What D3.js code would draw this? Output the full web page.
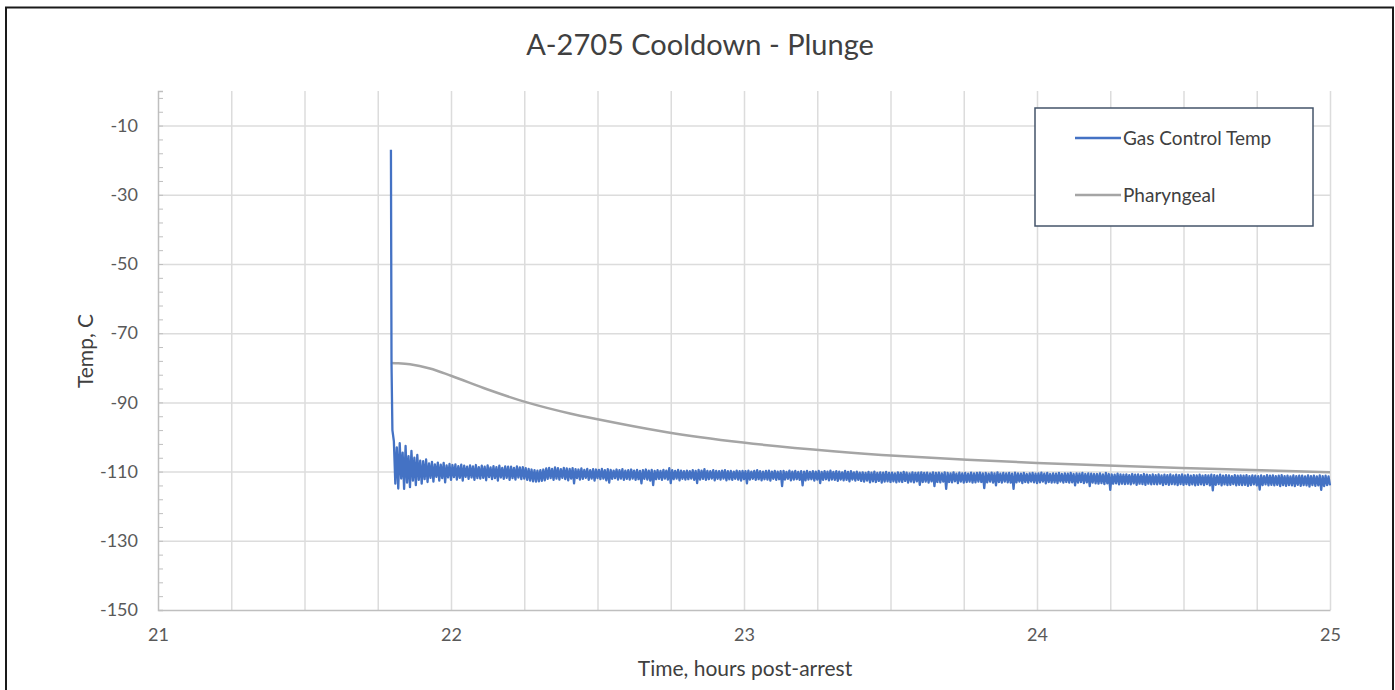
<!DOCTYPE html>
<html>
<head>
<meta charset="utf-8">
<script src="https://cdn.jsdelivr.net/npm/d3@7"></script>
<style>
  body { margin: 0; background: #fff; }
  svg { display: block; font-family: Lato, "Open Sans", sans-serif; }
</style>
</head>
<body>
<div id="chart"></div>
<script>
// chart data
const title = "A-2705 Cooldown - Plunge";
const xLabel = "Time, hours post-arrest";
const yLabel = "Temp, C";
const seriesNames = ["Gas Control Temp", "Pharyngeal"];

const xTicks = [21, 22, 23, 24, 25];
const xGrid = [21.25, 21.5, 21.75, 22, 22.25, 22.5, 22.75, 23, 23.25, 23.5, 23.75, 24, 24.25, 24.5, 24.75, 25];
const yTicks = [-150, -130, -110, -90, -70, -50, -30, -10];

// gas control temp: the spike when plunged, then samples every 0.005 h
const spikeTime = [21.795, 21.797, 21.800];
const spikeTemp = [-17, -79, -98];
const gasStart = 21.805;
const gasStep = 0.005;
const gasTemp = [
  -101.2, -113.5, -103.0, -114.9, -101.8, -112.0, -104.5, -115.0, -102.6, -113.2, -105.5, -114.5, -104.0, -112.6, -106.0, -113.9, -105.2, -112.4, -106.8, -113.5,
  -107.0, -112.2, -106.5, -113.0, -107.6, -111.8, -107.2, -112.9, -107.9, -111.5, -107.4, -112.6, -108.0, -111.9, -107.5, -113.1, -108.2, -111.7, -107.8, -112.4,
  -108.1, -111.6, -107.9, -112.3, -108.4, -111.8, -108.0, -112.6, -108.3, -111.5, -108.6, -112.1, -108.2, -111.7, -108.5, -112.4, -108.1, -111.9, -108.7, -112.0,
  -108.3, -111.8, -108.6, -112.5, -108.2, -111.6, -108.8, -112.2, -108.4, -111.9, -108.7, -112.6, -108.3, -111.7, -108.9, -112.1, -108.5, -111.8, -108.6, -112.4,
  -108.6, -111.9, -108.9, -112.3, -108.5, -111.7, -108.8, -112.2, -108.7, -112.0, -109.0, -112.4, -109.2, -112.6, -109.4, -112.8, -109.6, -112.9, -109.7, -112.8,
  -109.6, -112.7, -109.4, -112.5, -109.1, -112.1, -108.9, -111.9, -109.2, -112.4, -108.8, -112.0, -109.0, -112.3, -109.3, -111.8, -108.9, -112.2, -109.1, -112.5,
  -109.2, -112.0, -109.0, -113.4, -109.3, -111.9, -109.4, -112.3, -109.1, -112.1, -109.5, -111.8, -109.2, -112.4, -109.6, -112.0, -109.3, -112.6, -109.4, -111.9,
  -109.5, -112.2, -109.2, -112.0, -109.6, -112.5, -109.3, -113.2, -109.5, -112.1, -109.7, -111.9, -109.4, -112.3, -109.6, -112.0, -109.3, -112.4, -109.7, -112.1,
  -109.6, -112.3, -109.4, -112.0, -109.7, -112.4, -109.5, -112.2, -109.8, -113.4, -109.6, -112.1, -109.4, -112.3, -109.7, -112.6, -109.5, -113.9, -109.8, -112.2,
  -109.6, -112.1, -109.8, -112.4, -109.5, -112.0, -109.7, -112.3, -109.0, -113.3, -109.6, -112.2, -109.8, -112.0, -109.5, -112.5, -109.7, -112.1, -109.9, -112.3,
  -109.7, -112.2, -109.9, -112.0, -109.6, -112.4, -109.8, -113.3, -109.5, -112.3, -109.7, -112.1, -109.3, -112.4, -109.8, -112.2, -109.9, -112.0, -109.6, -112.5,
  -109.8, -112.1, -109.9, -112.3, -109.7, -112.0, -109.6, -112.5, -109.9, -112.2, -109.8, -112.4, -110.0, -112.1, -109.7, -112.3, -109.9, -112.6, -109.8, -112.2,
  -109.9, -113.4, -109.7, -112.3, -110.0, -112.1, -109.8, -112.4, -109.6, -112.2, -109.9, -112.5, -110.0, -112.2, -109.8, -112.3, -109.7, -112.6, -110.0, -112.1,
  -109.8, -112.4, -110.0, -112.2, -109.9, -114.2, -109.8, -112.3, -110.1, -112.1, -109.7, -112.5, -110.0, -112.3, -109.8, -112.2, -110.1, -112.4, -109.9, -114.0,
  -110.0, -112.5, -109.8, -112.3, -110.1, -112.2, -109.9, -112.6, -110.0, -112.3, -109.8, -113.3, -110.1, -112.4, -109.9, -112.2, -110.0, -112.5, -109.7, -112.3,
  -110.1, -112.4, -109.9, -112.7, -110.0, -112.3, -110.2, -112.5, -109.8, -112.4, -110.1, -112.8, -109.9, -112.3, -110.2, -112.6, -110.0, -112.4, -110.3, -112.7,
  -110.2, -112.9, -110.4, -112.6, -110.1, -113.1, -110.3, -112.8, -110.0, -113.0, -110.4, -112.7, -110.2, -113.2, -110.3, -112.9, -110.1, -112.8, -110.4, -113.0,
  -110.3, -112.8, -110.5, -113.1, -110.2, -112.9, -110.4, -113.0, -110.1, -112.7, -110.3, -113.2, -110.5, -112.9, -110.2, -113.1, -110.4, -112.8, -110.3, -113.8,
  -110.2, -113.0, -110.4, -112.9, -110.3, -113.2, -110.5, -112.8, -110.2, -114.2, -110.4, -113.0, -110.3, -113.1, -110.5, -112.9, -110.2, -115.0, -110.4, -113.0,
  -110.5, -113.1, -110.2, -112.8, -110.6, -113.3, -110.3, -112.9, -110.5, -113.2, -110.4, -113.0, -110.6, -112.9, -110.3, -113.2, -110.5, -113.1, -110.4, -112.9,
  -110.3, -113.0, -110.5, -114.8, -110.4, -113.1, -110.6, -112.9, -110.3, -113.2, -110.5, -114.0, -110.2, -113.0, -110.6, -113.2, -110.4, -112.9, -110.5, -113.1,
  -110.4, -113.2, -110.6, -115.0, -110.3, -113.1, -110.5, -112.9, -110.6, -113.3, -110.4, -113.0, -110.7, -113.2, -110.5, -112.9, -110.4, -113.1, -110.6, -113.3,
  -110.5, -113.1, -110.3, -112.9, -110.6, -113.4, -110.4, -113.0, -110.7, -113.2, -110.5, -113.1, -110.6, -113.3, -110.4, -112.9, -110.7, -113.2, -110.5, -113.0,
  -110.6, -113.2, -110.4, -113.1, -110.7, -114.0, -110.5, -113.2, -110.6, -113.0, -110.4, -113.3, -110.7, -113.1, -110.5, -114.2, -110.6, -113.2, -110.7, -113.4,
  -110.7, -113.5, -110.5, -113.3, -110.8, -113.6, -110.4, -113.4, -110.7, -115.3, -110.8, -113.5, -110.9, -113.4, -110.6, -113.7, -110.8, -113.5, -110.9, -113.6,
  -110.8, -113.5, -111.0, -113.7, -110.7, -113.4, -110.9, -113.8, -110.8, -113.5, -111.0, -113.6, -110.7, -113.8, -110.9, -113.5, -111.0, -113.7, -110.8, -113.6,
  -111.0, -113.7, -110.8, -113.5, -111.1, -113.9, -110.9, -113.6, -111.0, -113.8, -110.8, -113.6, -111.1, -113.7, -110.9, -113.9, -111.0, -113.6, -110.8, -113.8,
  -111.1, -113.6, -110.9, -113.9, -111.2, -113.7, -111.0, -114.0, -111.1, -113.8, -110.9, -113.7, -111.2, -113.9, -111.0, -113.6, -111.1, -114.0, -110.9, -115.4,
  -111.0, -113.8, -111.2, -113.6, -110.9, -114.0, -111.2, -113.7, -111.0, -113.9, -111.1, -113.8, -111.3, -113.6, -111.0, -114.0, -111.2, -113.8, -111.1, -113.9,
  -111.2, -113.8, -111.0, -114.1, -111.3, -113.9, -111.1, -113.7, -111.2, -114.0, -111.3, -115.2, -111.1, -113.9, -111.3, -113.7, -111.0, -114.0, -111.2, -113.8,
  -111.1, -114.0, -111.3, -113.8, -111.2, -114.2, -111.0, -113.9, -111.3, -114.1, -111.2, -113.9, -111.4, -114.0, -111.1, -114.2, -111.3, -113.8, -111.2, -114.1,
  -111.2, -113.9, -111.4, -114.0, -111.1, -114.3, -111.3, -113.9, -111.2, -114.1, -111.4, -114.0, -111.1, -115.3, -111.3, -114.2, -111.2, -113.9, -111.4, -114.0
];

// pharyngeal probe
const pharTime = [21.795, 21.82, 21.86, 21.928, 22.0, 22.123, 22.259, 22.406, 22.509, 22.669,
  22.737, 22.997, 23.304, 23.532, 23.761, 24.0, 24.215, 24.556, 24.795, 25.0];
const pharTemp = [-78.6, -78.7, -79.0, -80.2, -82.3, -86.2, -90.0, -93.2, -95.0, -97.6,
  -98.6, -101.6, -104.1, -105.5, -106.6, -107.5, -108.2, -109.1, -109.7, -110.2];

const width = 1395, height = 690;
const margin = { left: 158, right: 65, top: 91, bottom: 80 };

const svg = d3.select("#chart").append("svg")
  .attr("width", width)
  .attr("height", height);

// frame round the picture
svg.append("rect")
  .attr("x", 6).attr("y", 7.5)
  .attr("width", 1387).attr("height", 700)
  .attr("fill", "#fff")
  .attr("stroke", "#1a1a1a")
  .attr("stroke-width", 2);

const x = d3.scaleLinear().domain([21, 25]).range([margin.left, width - margin.right]);
const y = d3.scaleLinear().domain([-150, 0]).range([height - margin.bottom, margin.top]);

// gridlines
svg.append("g")
  .attr("transform", `translate(0,${y(-150)})`)
  .call(d3.axisBottom(x).tickValues(xGrid).tickSize(-(y(-150) - y(0))).tickFormat(""))
  .call(g => g.select(".domain").remove())
  .call(g => g.selectAll("line").attr("stroke", "#dcdcdc").attr("stroke-width", 1.5));

svg.append("g")
  .attr("transform", `translate(${x(21)},0)`)
  .call(d3.axisLeft(y).tickValues(yTicks.slice(1)).tickSize(-(x(25) - x(21))).tickFormat(""))
  .call(g => g.select(".domain").remove())
  .call(g => g.selectAll("line").attr("stroke", "#dcdcdc").attr("stroke-width", 1.5));

// minor ticks on the y axis, every 4 degrees
svg.append("g")
  .attr("transform", `translate(${x(21)},0)`)
  .call(d3.axisRight(y).tickValues(d3.range(-150, 0, 4)).tickSize(5).tickFormat(""))
  .call(g => g.select(".domain").attr("stroke", "#bfbfbf").attr("stroke-width", 1.5))
  .call(g => g.selectAll("line").attr("stroke", "#bfbfbf"));

// axes with labels
svg.append("g")
  .attr("transform", `translate(${x(21)},0)`)
  .call(d3.axisLeft(y).tickValues(yTicks).tickSize(0).tickPadding(20).tickFormat(d => String(d)))
  .call(g => g.select(".domain").remove())
  .call(g => g.selectAll("text")
    .attr("font-family", "Lato, sans-serif")
    .attr("font-size", 18)
    .attr("fill", "#595959"));

svg.append("g")
  .attr("transform", `translate(0,${y(-150)})`)
  .call(d3.axisBottom(x).tickValues(xTicks).tickSize(0).tickPadding(18).tickFormat(d => String(d)))
  .call(g => g.select(".domain").attr("stroke", "#bfbfbf").attr("stroke-width", 1.5))
  .call(g => g.selectAll("text")
    .attr("font-family", "Lato, sans-serif")
    .attr("font-size", 18)
    .attr("fill", "#595959"));

// series
const gasData = spikeTime.map((t, i) => [t, spikeTemp[i]])
  .concat(gasTemp.map((v, i) => [gasStart + i * gasStep, v]));
const pharData = pharTime.map((t, i) => [t, pharTemp[i]]);

svg.append("path")
  .datum(pharData)
  .attr("d", d3.line().x(d => x(d[0])).y(d => y(d[1])).curve(d3.curveMonotoneX))
  .attr("fill", "none")
  .attr("stroke", "#a5a5a5")
  .attr("stroke-width", 2.5);

svg.append("path")
  .datum(gasData)
  .attr("d", d3.line().x(d => x(d[0])).y(d => y(d[1])))
  .attr("fill", "none")
  .attr("stroke", "#4472c4")
  .attr("stroke-width", 2.3)
  .attr("stroke-linejoin", "round");

// title and axis titles
svg.append("text")
  .attr("x", 700).attr("y", 55)
  .attr("text-anchor", "middle")
  .attr("font-size", 29)
  .attr("fill", "#404040")
  .text(title);

svg.append("text")
  .attr("x", 745).attr("y", 676)
  .attr("text-anchor", "middle")
  .attr("font-size", 21)
  .attr("fill", "#404040")
  .text(xLabel);

svg.append("text")
  .attr("transform", "translate(93,351) rotate(-90)")
  .attr("text-anchor", "middle")
  .attr("font-size", 21)
  .attr("fill", "#404040")
  .text(yLabel);

// legend
const legend = svg.append("g").attr("transform", "translate(1035,108)");
legend.append("rect")
  .attr("width", 278).attr("height", 118)
  .attr("fill", "#fff")
  .attr("stroke", "#44546a")
  .attr("stroke-width", 1.5);

const legendColors = ["#4472c4", "#a5a5a5"];
seriesNames.forEach((name, i) => {
  const row = legend.append("g").attr("transform", `translate(0,${30 + i * 57})`);
  row.append("line")
    .attr("x1", 40).attr("x2", 86)
    .attr("stroke", legendColors[i])
    .attr("stroke-width", 2.5);
  row.append("text")
    .attr("x", 88).attr("y", 6.5)
    .attr("font-size", 19)
    .attr("fill", "#404040")
    .text(name);
});
</script>
</body>
</html>
